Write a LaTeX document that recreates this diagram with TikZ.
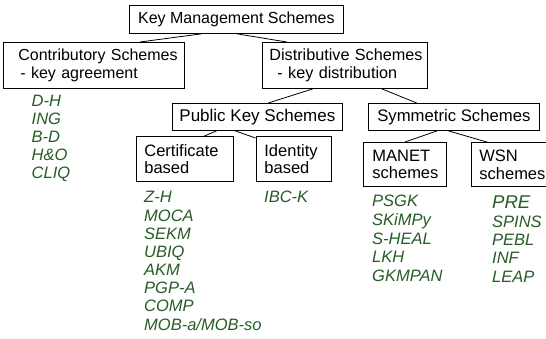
\documentclass[tikz,border=0pt]{standalone}
\usepackage{fontspec}
\setmainfont{Liberation Sans}
\definecolor{itgreen}{RGB}{38,92,38}
\begin{document}
\begin{tikzpicture}[x=1pt,y=-1pt,
  box/.style={draw, line width=0.8pt, inner sep=0pt, anchor=north west, font=\fontsize{16.5}{17.5}\selectfont},
  item/.style={anchor=base west, inner sep=0pt, text=itgreen, font=\fontsize{16.5}{18}\selectfont\itshape},
  link/.style={line width=0.8pt}]
\useasboundingbox (0,0) rectangle (546,339);
% boxes
\node[box, minimum width=214, minimum height=28, align=center, font=\fontsize{16}{18}\selectfont] (root) at (129,5) {Key Management Schemes};
\node[box, text width=181, minimum height=46, align=left, font=\fontsize{16}{17.5}\selectfont] (contrib) at (3,42) {\hspace*{15pt}Contributory Schemes\\\hspace*{17pt}- key agreement};
\node[box, text width=165, minimum height=46, align=left, font=\fontsize{16.2}{17.5}\selectfont] (distrib) at (262,42) {\hspace*{7pt}Distributive Schemes\\\hspace*{15pt}- key distribution};
\node[box, minimum width=170, minimum height=27, align=center, font=\fontsize{17}{18}\selectfont] (public) at (172,103) {Public Key Schemes};
\node[box, minimum width=171, minimum height=27, align=center, font=\fontsize{16.7}{18}\selectfont] (sym) at (368,103) {Symmetric Schemes};
\node[box, text width=96.5, minimum height=44.5, align=left] (cert) at (136,136.5) {\hspace*{8pt}Certificate\\\hspace*{8pt}based};
\node[box, text width=75.5, minimum height=44.5, align=left] (ident) at (255.5,136.5) {\hspace*{8.5pt}Identity\\\hspace*{8.5pt}based};
\node[box, text width=83, minimum height=44, align=left] (manet) at (363,142) {\hspace*{9pt}MANET\\\hspace*{9pt}schemes};
\node[box, text width=80, minimum height=43.5, align=left] (wsn) at (470.5,142.5) {\hspace*{8.5pt}WSN\\\hspace*{8.5pt}schemes};
% connectors
\draw[link] ([xshift=72.7pt]root.south west) -- ([xshift=137pt]contrib.north west);
\draw[link] ([xshift=107.7pt]root.south west) -- ([xshift=24.7pt]distrib.north west);
\draw[link] ([xshift=51pt]distrib.south west) -- ([xshift=96.3pt]public.north west);
\draw[link] ([xshift=119.7pt]distrib.south west) -- ([xshift=48.7pt]sym.north west);
\draw[link] ([xshift=44.7pt]public.south west) -- ([xshift=67.3pt]cert.north west);
\draw[link] ([xshift=63pt]public.south west) -- ([yshift=-1.5pt]ident.north west);
\draw[link] ([xshift=69.3pt]sym.south west) -- ([xshift=42pt]manet.north west);
\draw[link] ([xshift=80.3pt]sym.south west) -- ([xshift=17.8pt]wsn.north west);
% lists
\foreach \t [count=\i from 0] in {D-H,ING,B-D,H\&O,CLIQ}
  \node[item] (ka\i) at (31.5,107+18*\i) {\t};
\foreach \t [count=\i from 0] in {Z-H,MOCA,SEKM,UBIQ,AKM,PGP-A,COMP,MOB-a/MOB-so}
  \node[item] (ce\i) at (144,203+18.15*\i) {\t};
\node[item] (ib0) at (264,203) {IBC-K};
\foreach \t [count=\i from 0] in {PSGK,SKiMPy,S-HEAL,LKH,GKMPAN}
  \node[item] (ma\i) at (372,207+18.5*\i) {\t};
\node[item, font=\fontsize{18.5}{18}\selectfont\itshape] (ws0) at (492,208) {PRE};
\foreach \t [count=\i from 1] in {SPINS,PEBL,INF,LEAP}
  \node[item] (ws\i) at (492,209.3+18.2*\i) {\t};
\end{tikzpicture}
\end{document}
